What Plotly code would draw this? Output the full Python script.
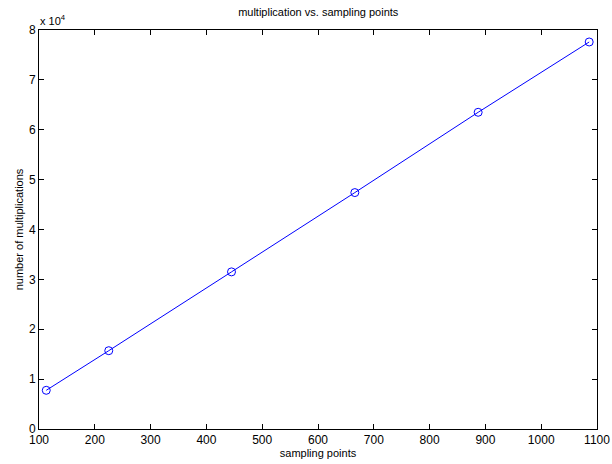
import plotly.graph_objects as go

sampling_points = [113, 225, 445, 666, 887, 1086]
multiplications = [7760, 15700, 31500, 47400, 63500, 77600]

x_ticks = [100, 200, 300, 400, 500, 600, 700, 800, 900, 1000, 1100]
y_tick_vals = [0, 10000, 20000, 30000, 40000, 50000, 60000, 70000, 80000]
y_tick_text = ["0", "1", "2", "3", "4", "5", "6", "7", "8"]

font_family = "Liberation Sans, Arial, Helvetica, sans-serif"

fig = go.Figure()
fig.add_trace(go.Scatter(
    x=sampling_points, y=multiplications,
    mode="lines+markers",
    line=dict(color="#0000FF", width=1),
    marker=dict(symbol="circle-open", size=8, color="#0000FF", line=dict(width=1, color="#0000FF")),
    showlegend=False,
))

axis_common = dict(
    showline=True, linecolor="black", linewidth=1, mirror="ticks",
    ticks="inside", ticklen=5, tickcolor="black", tickwidth=1,
    showgrid=False, zeroline=False, automargin=False,
    tickfont=dict(family=font_family, size=12, color="black"),
)

fig.update_layout(
    width=612, height=464,
    margin=dict(l=39, r=15, t=30, b=35),
    paper_bgcolor="white", plot_bgcolor="white",
    title=dict(text="multiplication vs. sampling points", x=0.52, xanchor="center",
               y=1 - 12/464, yanchor="middle",
               font=dict(family=font_family, size=11, color="black")),
    xaxis=dict(range=[100, 1100], tickvals=x_ticks, ticktext=[str(v) for v in x_ticks],
               ticklabelstandoff=0,
               title=dict(text="sampling points", standoff=0,
                          font=dict(family=font_family, size=11, color="black")),
               **axis_common),
    yaxis=dict(range=[0, 80000], tickvals=y_tick_vals, ticktext=y_tick_text,
               title=dict(text="number of multiplications", standoff=3,
                          font=dict(family=font_family, size=11, color="black")),
               **axis_common),
)

fig.add_annotation(
    text="x 10<sup>4</sup>", xref="paper", yref="paper",
    x=0.0, y=1.0, xanchor="left", yanchor="bottom", yshift=1, xshift=-1,
    showarrow=False, font=dict(family=font_family, size=11, color="black"),
)

fig.write_html("out.html", config={"displayModeBar": False},
               post_script="document.body.style.margin='0px';document.body.style.overflow='hidden';")
